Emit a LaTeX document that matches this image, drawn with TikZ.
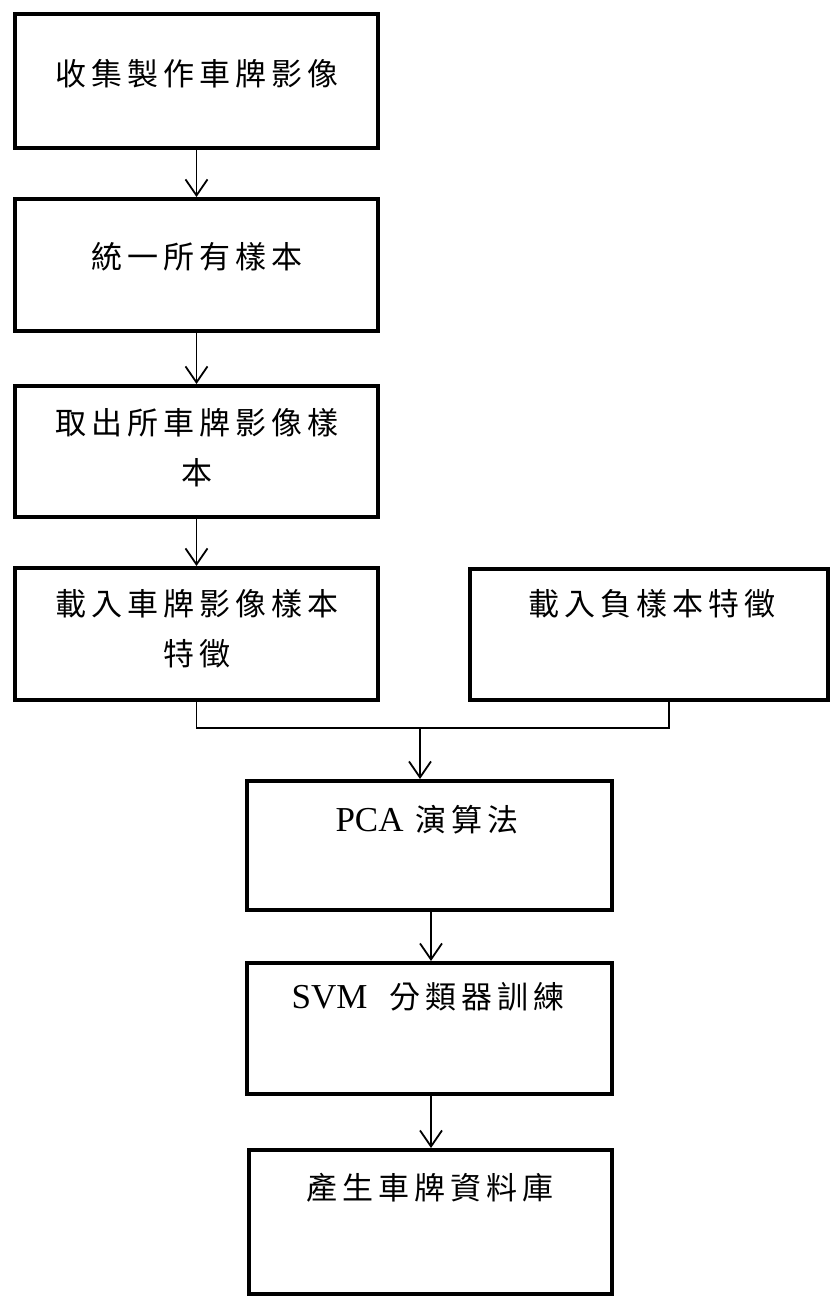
\documentclass[tikz,border=0pt]{standalone}
\usepackage{fontspec}
\setmainfont{Liberation Serif}
\newfontfamily\cjk[LetterSpace=16]{Noto Sans CJK TC}
\usetikzlibrary{arrows.meta}
\begin{document}
\begin{tikzpicture}[x=1pt,y=-1pt,
  box/.style={draw=black, line width=4pt, rectangle, inner sep=0pt, fill=white},
  lbl/.style={inner sep=0pt, anchor=center, font=\fontsize{31}{50}\selectfont\cjk, align=center},
  latin/.style={font=\fontsize{35}{42}\selectfont},
  arr/.style={line width=1.8pt, -{Straight Barb[length=16pt,width=22pt,line width=1.8pt]}},
  conn/.style={line width=1.8pt}]
\fill[white] (0,0) rectangle (834,1303);
\useasboundingbox (0,0) rectangle (834,1303);
% boxes
\node[box, minimum width=363pt, minimum height=134pt] (b1) at (196.5,81) {};
\node[box, minimum width=363pt, minimum height=132pt] (b2) at (196.5,265) {};
\node[box, minimum width=363pt, minimum height=131pt] (b3) at (196.5,451.5) {};
\node[box, minimum width=363pt, minimum height=132pt] (b4) at (196.5,634) {};
\node[box, minimum width=358pt, minimum height=131pt] (b5) at (649,634.5) {};
\node[box, minimum width=365pt, minimum height=129pt] (b6) at (429.5,845.5) {};
\node[box, minimum width=365pt, minimum height=131pt] (b7) at (429.5,1028.5) {};
\node[box, minimum width=363pt, minimum height=144pt] (b8) at (430.5,1222) {};
% labels
\node[lbl] (t1) at (197,74) {收集製作車牌影像};
\node[lbl] (t2) at (197,257) {統一所有樣本};
\node[lbl] (t3) at (197,448) {取出所車牌影像樣\\本};
\node[lbl] (t4) at (197,629) {載入車牌影像樣本\\特徵};
\node[lbl] (t5) at (652,604) {載入負樣本特徵};
\node[lbl] (t6) at (427,820) {{\fontsize{35}{42}\selectfont\rmfamily PCA}\hspace{12pt}演算法};
\node[lbl] (t7) at (428,997) {{\fontsize{35}{42}\selectfont\rmfamily SVM}\hspace{22pt}分類器訓練};
\node[lbl] (t8) at (430,1188) {產生車牌資料庫};
% connectors
\draw[arr] (b1.south) -- (b2.north);
\draw[arr] (b2.south) -- (b3.north);
\draw[arr] (b3.south) -- (b4.north);
\coordinate (jl) at (196.5,728);
\coordinate (jr) at (669,728);
\coordinate (jm) at (420,728);
\draw[conn] (b4.south) -- (jl) -- (jr) -- (b5.south -| jr);
\draw[arr] (jm) -- (b6.north -| jm);
\draw[arr] (b6.south -| 431,0) -- (b7.north -| 431,0);
\draw[arr] (b7.south -| 431,0) -- (b8.north -| 431,0);
\end{tikzpicture}
\end{document}
